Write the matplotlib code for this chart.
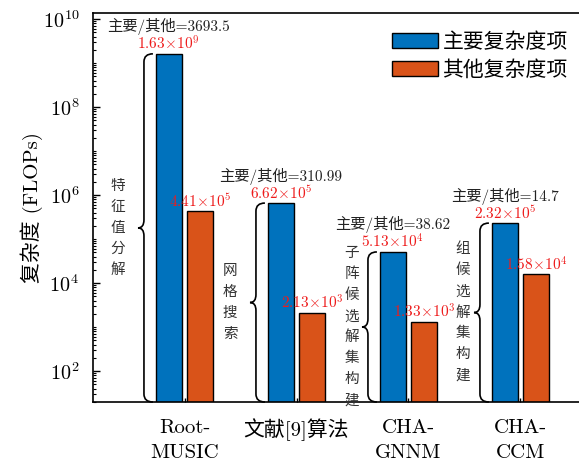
import numpy as np
import matplotlib.pyplot as plt
from matplotlib.path import Path
from matplotlib.patches import PathPatch
from matplotlib.ticker import FixedLocator, FuncFormatter, NullFormatter
from matplotlib.transforms import blended_transform_factory

plt.rcParams['font.family'] = ['cmr10', 'Noto Sans CJK SC']
plt.rcParams['mathtext.fontset'] = 'cm'
plt.rcParams['axes.unicode_minus'] = False
plt.rcParams['axes.formatter.use_mathtext'] = True

# data
methods = ['Root-\nMUSIC', '文献[9]算法', 'CHA-\nGNNM', 'CHA-\nCCM']
main_flops = [1.63e9, 6.62e5, 5.13e4, 2.32e5]
other_flops = [4.41e5, 2.13e3, 1.33e3, 1.58e4]
ratios = ['3693.5', '310.99', '38.62', '14.7']
main_steps = ['特征值分解', '网格搜索', '子阵候选解集构建', '组候选解集构建']
legend_labels = ['主要复杂度项', '其他复杂度项']

# layout
note_dx = [-38, -38, -28, -29]   # px, step text left of the blue bar
blue, orange = '#0072BD', '#D95319'
red = '#ee1c1c'
width, shift = 0.23, 0.14
ymin, ymax = 10 ** 1.3, 10 ** 10.14
px = 72 / 100  # points per pixel at dpi 100


def sci(v):
    m, e = f'{v:.2e}'.split('e')
    return rf'${m}\!\times\!10^{{{int(e)}}}$'


def frac(v):
    return (np.log10(v) - np.log10(ymin)) / (np.log10(ymax) - np.log10(ymin))


def left_brace(ax, x_right, y_top):
    # curly brace in (data x, axes y) from the axis bottom up to y_top
    tr = blended_transform_factory(ax.transData, ax.transAxes)
    xr = x_right - 0.027
    xm = x_right - 0.107
    xl = x_right - 0.16
    r = 8 / 389
    yt, yb = frac(y_top), 0.0
    ym = (yt + yb) / 2
    verts = [(xr, yt), (xm, yt), (xm, yt - r),
             (xm, ym + r),
             (xm, ym), (xl, ym),
             (xm, ym), (xm, ym - r),
             (xm, yb + r),
             (xm, yb), (xr, yb)]
    codes = [Path.MOVETO, Path.CURVE3, Path.CURVE3,
             Path.LINETO,
             Path.CURVE3, Path.CURVE3,
             Path.CURVE3, Path.CURVE3,
             Path.LINETO,
             Path.CURVE3, Path.CURVE3]
    ax.add_patch(PathPatch(Path(verts, codes), transform=tr, fill=False,
                           edgecolor='black', lw=1.2, clip_on=False))
    return tr, ym


fig = plt.figure(figsize=(5.79, 4.66), dpi=100)
ax = fig.add_axes([93 / 579, 64 / 466, 519 / 579, 389 / 466])

x = np.arange(len(methods))
ax.bar(x - shift, main_flops, width, bottom=1, color=blue, edgecolor='black',
       linewidth=1, label=legend_labels[0], zorder=2)
ax.bar(x + shift, other_flops, width, bottom=1, color=orange, edgecolor='black',
       linewidth=1, label=legend_labels[1], zorder=2)

ax.set_yscale('log')
ax.set_ylim(ymin, ymax)
ax.set_xlim(-0.817, 3.817)

for i in range(len(methods)):
    xb, xo = x[i] - shift, x[i] + shift
    ax.annotate(sci(main_flops[i]), (xb, main_flops[i]), xytext=(0, 10 * px),
                textcoords='offset points', ha='center', va='center',
                color=red, fontsize=11)
    ax.annotate(sci(other_flops[i]), (xo, other_flops[i]), xytext=(0, 10 * px),
                textcoords='offset points', ha='center', va='center',
                color=red, fontsize=11)
    ax.annotate('主要/其他=' + ratios[i], (xb, main_flops[i]),
                xytext=(0, 27 * px), textcoords='offset points',
                ha='center', va='center', fontsize=11, color='#222222')

    tr, ym = left_brace(ax, xb - width / 2, main_flops[i])
    chars = main_steps[i]
    n = len(chars)
    step = 21
    for k, ch in enumerate(chars):
        dy = ((n - 1) / 2 - k) * step
        ax.annotate(ch, (xb - width / 2, ym), xycoords=tr,
                    xytext=(note_dx[i] * px, dy * px), textcoords='offset points',
                    ha='center', va='center', fontsize=10.5, color='#333333')

ax.set_xticks(x)
ax.set_xticklabels(methods, fontsize=15, linespacing=1.55)
ax.yaxis.set_major_locator(FixedLocator([1e2, 1e4, 1e6, 1e8, 1e10]))
ax.yaxis.set_major_formatter(FuncFormatter(lambda v, p: rf'$10^{{{int(round(np.log10(v)))}}}$'))
minor = [s * 10.0 ** k for k in range(1, 11) for s in range(1, 10)
         if not (s == 1 and k % 2 == 0)]
ax.yaxis.set_minor_locator(FixedLocator(minor))
ax.yaxis.set_minor_formatter(NullFormatter())
ax.tick_params(axis='y', which='major', direction='in', length=5, width=1,
               labelsize=14.5, pad=10)
ax.tick_params(axis='y', which='minor', direction='in', length=2.5, width=0.8)
ax.tick_params(axis='x', direction='in', length=3, width=1, pad=12)
for s in ax.spines.values():
    s.set_linewidth(1.2)

ax.set_ylabel('复杂度 (FLOPs)', fontsize=15, labelpad=0)

fig.legend(loc='upper right', bbox_to_anchor=(576 / 579, 1 - 24 / 466),
           frameon=False, fontsize=15, handlelength=2.2, handleheight=0.72,
           handletextpad=0.2, labelspacing=0.4, borderaxespad=0)

fig.savefig('out.png', dpi=100)
